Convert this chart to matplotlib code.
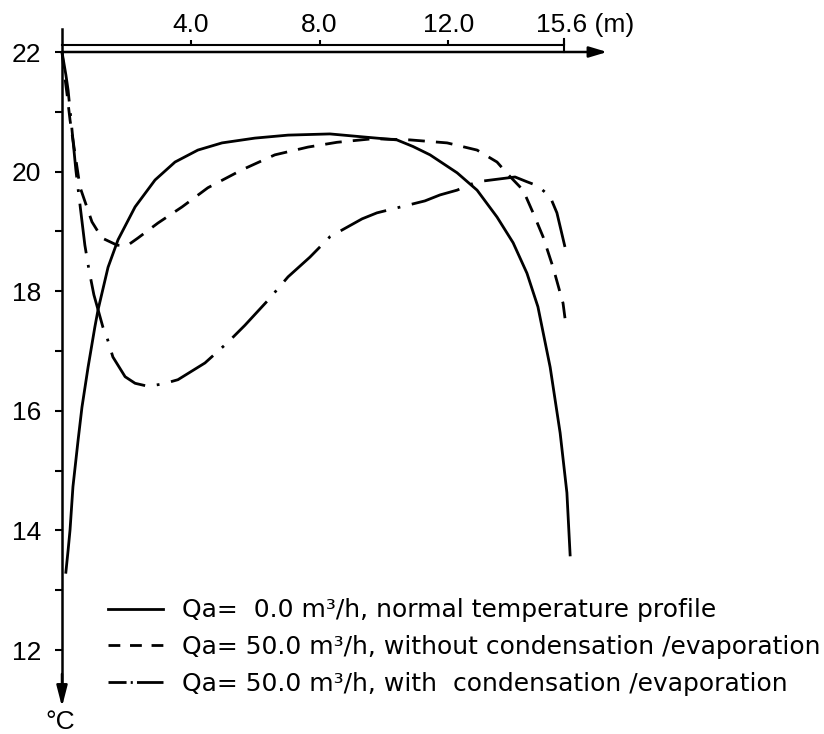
import matplotlib
matplotlib.use("Agg")
import matplotlib.pyplot as plt
import matplotlib.transforms as mtransforms
from matplotlib import font_manager
from matplotlib.lines import Line2D

plt.rcParams['lines.scale_dashes'] = False

# ---------------- data ----------------
# Qa = 0.0 m3/h, normal temperature profile
x_solid = [0.12, 0.19, 0.25, 0.34, 0.50, 0.62, 0.81, 1.02, 1.12, 1.43, 1.74, 2.27,
           2.89, 3.51, 4.22, 4.97, 5.99, 7.02, 8.32, 9.35, 10.40, 10.90, 11.43, 12.27,
           12.89, 13.51, 14.01, 14.44, 14.78, 15.16, 15.47, 15.68, 15.78]
t_solid = [13.30, 13.67, 14.01, 14.73, 15.51, 16.06, 16.73, 17.40, 17.69, 18.40, 18.86, 19.41,
           19.86, 20.16, 20.36, 20.48, 20.56, 20.61, 20.63, 20.58, 20.53, 20.42, 20.28, 19.98,
           19.69, 19.24, 18.81, 18.30, 17.74, 16.73, 15.63, 14.63, 13.59]

# Qa = 50.0 m3/h, without condensation / evaporation
x_dashed = [0.00, 0.06, 0.16, 0.25, 0.40, 0.56, 0.93, 1.24, 1.71, 2.02, 2.36, 2.98,
            3.73, 4.53, 5.59, 6.61, 7.64, 8.54, 9.66, 10.81, 11.96, 12.89, 13.51,
            13.82, 14.32, 14.63, 14.94, 15.25, 15.56, 15.65]
t_dashed = [22.00, 21.70, 21.28, 20.86, 20.31, 19.74, 19.16, 18.89, 18.77, 18.76, 18.89, 19.14,
            19.41, 19.73, 20.03, 20.28, 20.41, 20.49, 20.55, 20.53, 20.48, 20.36, 20.16,
            19.97, 19.69, 19.31, 18.91, 18.40, 17.80, 17.43]

# Qa = 50.0 m3/h, with condensation / evaporation
x_dd = [0.00, 0.12, 0.19, 0.31, 0.43, 0.56, 0.71, 0.84, 0.99, 1.12, 1.27, 1.40, 1.58,
        1.96, 2.27, 2.67, 3.14, 3.60, 4.44, 5.16, 5.68, 6.40, 7.02, 7.70, 8.32, 9.32,
        9.78, 11.27, 11.74, 12.27, 12.89, 14.07, 14.44, 14.78, 15.16, 15.37, 15.62]
t_dd = [22.00, 21.62, 21.36, 20.70, 20.03, 19.44, 18.77, 18.35, 17.94, 17.69, 17.40, 17.22, 16.90,
        16.57, 16.46, 16.41, 16.45, 16.52, 16.80, 17.15, 17.43, 17.85, 18.24, 18.57, 18.91, 19.21,
        19.31, 19.51, 19.61, 19.69, 19.83, 19.91, 19.83, 19.76, 19.58, 19.31, 18.74]

legend_labels = ["Qa=  0.0 m\u00b3/h, normal temperature profile",
                 "Qa= 50.0 m\u00b3/h, without condensation /evaporation",
                 "Qa= 50.0 m\u00b3/h, with  condensation /evaporation"]

x_ticks = [4.0, 8.0, 12.0, 15.6]
x_tick_labels = ["4.0", "8.0", "12.0", "15.6 (m)"]
y_major = [12, 14, 16, 18, 20, 22]
y_minor = [13, 15, 17, 19, 21]
y_unit = "\u00b0C"

# ---------------- fonts ----------------
names = {f.name for f in font_manager.fontManager.ttflist}
tick_font = "Liberation Sans" if "Liberation Sans" in names else "DejaVu Sans"
legend_font = "DejaVu Sans"

# ---------------- figure ----------------
W, H = 824, 734
fig = plt.figure(figsize=(W / 100, H / 100), dpi=100)
ax = fig.add_axes([0, 0, 1, 1])
ax.patch.set_visible(False)
# pixel mapping: x=0 -> 62 px, 32.2 px/m ; T=22 -> 52 px from top, 59.8 px/degC
ax.set_xlim(-62 / 32.2, (W - 62) / 32.2)
ax.set_ylim(22 - (H - 52) / 59.8, 22 + 52 / 59.8)

lw = 2.0
ln_solid, = ax.plot(x_solid, t_solid, color="black", lw=lw, solid_joinstyle="round")
ln_dash, = ax.plot(x_dashed, t_dashed, color="black", lw=lw)
ln_dash.set_dashes([12, 8])
ln_dd, = ax.plot(x_dd, t_dd, color="black", lw=lw)
ln_dd.set_dashes([36, 8.5, 2, 8.5])

# ---------------- axes ----------------
ax.spines["right"].set_visible(False)
ax.spines["bottom"].set_visible(False)
top_line = 22 + 7 / 59.8
ax.spines["left"].set_position(("data", 0))
ax.spines["left"].set_bounds(11.3, 22.38)
ax.spines["left"].set_linewidth(1.8)
ax.spines["top"].set_position(("data", top_line))
ax.spines["top"].set_bounds(0, x_ticks[-1])
ax.spines["top"].set_linewidth(1.5)

ax.yaxis.set_ticks_position("left")
ax.set_yticks(y_major)
ax.set_yticks(y_minor, minor=True)
ax.tick_params(axis="y", which="both", direction="out", length=5, width=1.5,
               pad=10, labelsize=19)
for lab in ax.get_yticklabels():
    lab.set_fontfamily(tick_font)

ax.xaxis.set_ticks_position("top")
ax.set_xticks(x_ticks, labels=x_tick_labels)
ax.tick_params(axis="x", which="both", direction="out", length=3.6, width=1.5,
               pad=2, labelsize=19)
xl = ax.get_xticklabels()
for lab in xl:
    lab.set_fontfamily(tick_font)
xl[-1].set_ha("left")
xl[-1].set_transform(xl[-1].get_transform() +
                     mtransforms.ScaledTranslation(-0.28, 0, fig.dpi_scale_trans))

# lower x axis line with arrow, and the end bar at 15.6
ax.annotate("", xy=(16.93, 22), xytext=(0, 22),
            arrowprops=dict(arrowstyle="-|>,head_length=0.6,head_width=0.18",
                            lw=1.8, color="black", shrinkA=0, shrinkB=0,
                            mutation_scale=18))
ax.plot([x_ticks[-1], x_ticks[-1]], [22, top_line + 6 / 59.8], color="black", lw=1.5)
# y axis arrow
ax.annotate("", xy=(0, 11.05), xytext=(0, 11.6),
            arrowprops=dict(arrowstyle="-|>,head_length=0.7,head_width=0.18",
                            lw=1.8, color="black", shrinkA=0, shrinkB=0,
                            mutation_scale=18))
ax.text(-0.06, 22 - (722 - 52) / 59.8, y_unit, ha="center", va="center",
        fontsize=19, family=tick_font)

# ---------------- legend ----------------
h1 = Line2D([], [], color="black", lw=lw)
h2 = Line2D([], [], color="black", lw=lw)
h2.set_dashes([8.5, 7])
h3 = Line2D([], [], color="black", lw=lw)
h3.set_dashes([13, 3, 1.5, 3, 24, 100])
ax.legend([h1, h2, h3], legend_labels, loc="center left",
          bbox_to_anchor=(108 / W, 1 - 647 / H), bbox_transform=fig.transFigure,
          frameon=False, borderpad=0, borderaxespad=0, handlelength=2.2,
          handletextpad=0.76, labelspacing=0.5,
          prop={"family": legend_font, "size": 18})

fig.savefig("out.png", dpi=100)
